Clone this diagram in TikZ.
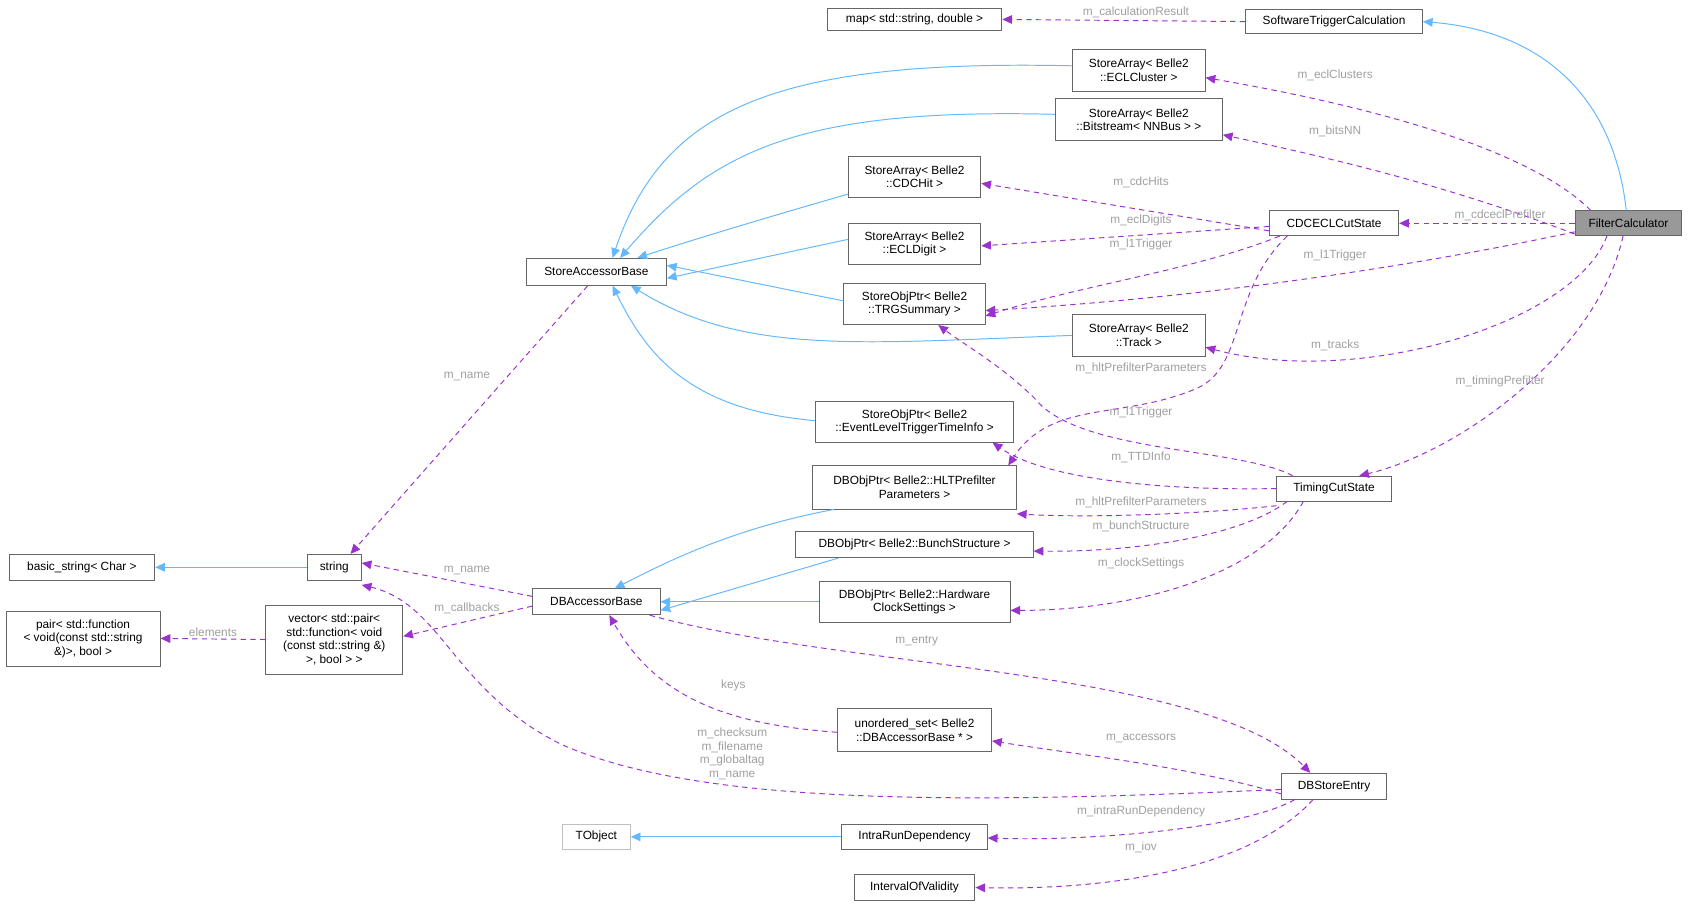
\documentclass[tikz,border=0pt]{standalone}
\usepackage{fontspec}
\setmainfont{Liberation Sans}
\usetikzlibrary{arrows.meta}
\definecolor{inh}{RGB}{99,184,255}
\definecolor{use}{RGB}{154,50,205}
\definecolor{lbl}{RGB}{160,160,160}
\definecolor{bd}{RGB}{102,102,102}
\begin{document}
\begin{tikzpicture}[x=1pt,y=-1pt,
  box/.style={draw=bd,line width=0.8pt,rectangle,inner sep=1pt,align=center,font=\fontsize{11}{12.5}\selectfont},
  inh/.style={draw=inh,line width=0.9pt,-{Triangle[length=9pt,width=8pt]}},
  use/.style={draw=use,line width=0.9pt,dash pattern=on 5pt off 4pt,-{Triangle[length=9pt,width=8pt,fill=use]}},
  lb/.style={text=lbl,font=\fontsize{11}{12.5}\selectfont,align=center,inner sep=0pt}]
\useasboundingbox (0,0) rectangle (1568,839);
\fill[white] (0,0) rectangle (1568,839);
% nodes
\node[box,minimum width=162,minimum height=21] (map) at (848,18) {map< std::string, double >};
\node[box,minimum width=164,minimum height=22] (swtc) at (1237,20) {SoftwareTriggerCalculation};
\node[box,minimum width=123,minimum height=39] (eclc) at (1056,65) {StoreArray< Belle2\\::ECLCluster >};
\node[box,minimum width=155,minimum height=39] (bits) at (1056,111) {StoreArray< Belle2\\::Bitstream< NNBus > >};
\node[box,minimum width=123,minimum height=38] (cdch) at (848,164) {StoreArray< Belle2\\::CDCHit >};
\node[box,minimum width=123,minimum height=38] (ecld) at (848,226) {StoreArray< Belle2\\::ECLDigit >};
\node[box,minimum width=131,minimum height=38] (trg) at (848,282) {StoreObjPtr< Belle2\\::TRGSummary >};
\node[box,minimum width=123,minimum height=39] (trk) at (1056,311) {StoreArray< Belle2\\::Track >};
\node[box,minimum width=184,minimum height=38] (eltti) at (848,391) {StoreObjPtr< Belle2\\::EventLevelTriggerTimeInfo >};
\node[box,minimum width=120,minimum height=23] (cdcecl) at (1237,207) {CDCECLCutState};
\node[box,fill=black!40,minimum width=99,minimum height=23] (fc) at (1510,207) {FilterCalculator};
\node[box,minimum width=130,minimum height=25] (sab) at (553,252) {StoreAccessorBase};
\node[box,minimum width=189,minimum height=40] (hlt) at (848,452) {DBObjPtr< Belle2::HLTPrefilter\\Parameters >};
\node[box,minimum width=106,minimum height=23] (tcs) at (1237,453) {TimingCutState};
\node[box,minimum width=220,minimum height=24] (bunch) at (848,505) {DBObjPtr< Belle2::BunchStructure >};
\node[box,minimum width=177,minimum height=38] (clock) at (848,558) {DBObjPtr< Belle2::Hardware\\ClockSettings >};
\node[box,minimum width=135,minimum height=24] (bstr) at (76,526) {basic\_string< Char >};
\node[box,minimum width=50,minimum height=24] (str) at (310,526) {string};
\node[box,minimum width=118,minimum height=24] (dbab) at (553,558) {DBAccessorBase};
\node[box,minimum width=143,minimum height=51] (pair) at (77,592) {pair< std::function\\< void(const std::string\\\&)>, bool >};
\node[box,minimum width=127,minimum height=64] (vec) at (310,593) {vector< std::pair<\\std::function< void\\(const std::string \&)\\>, bool > >};
\node[box,minimum width=143,minimum height=40] (uset) at (848,677) {unordered\_set< Belle2\\::DBAccessorBase * >};
\node[box,minimum width=98,minimum height=24] (dbse) at (1237,729) {DBStoreEntry};
\node[box,draw=black!25,minimum width=63,minimum height=24] (tobj) at (553,776) {TObject};
\node[box,minimum width=135,minimum height=24] (intra) at (848,776) {IntraRunDependency};
\node[box,minimum width=112,minimum height=24] (iov) at (848,823) {IntervalOfValidity};
% inheritance
\draw[inh] (fc.north) ++(-2,0) .. controls (1495,80) and (1420,28) .. (swtc.east);
\draw[inh] (eclc.west) ++(0,-4) .. controls (720,55) and (615,100) .. ([xshift=15]sab.north);
\draw[inh] (bits.west) ++(0,-5) .. controls (740,100) and (660,140) .. ([xshift=22]sab.north);
\draw[inh] (cdch.west) ++(0,16) .. controls (700,205) and (650,220) .. ([xshift=38]sab.north);
\draw[inh] (ecld.west) ++(0,-4) -- ([yshift=-6]sab.east);
\draw[inh] (trg.west) ++(0,-3) -- ([yshift=6]sab.east);
\draw[inh] (trk.west) .. controls (800,318) and (690,330) .. ([xshift=32]sab.south);
\draw[inh] (eltti.west) ++(0,-1) .. controls (640,380) and (600,330) .. ([xshift=15]sab.south);
\draw[inh] ([xshift=20]hlt.south west) .. controls (680,490) and (620,520) .. ([xshift=17]dbab.north);
\draw[inh] ([xshift=40]bunch.south west) -- ([yshift=-8]dbab.east);
\draw[inh] (clock.west) -- (dbab.east);
\draw[inh] (str.west) -- (bstr.east);
\draw[inh] (intra.west) -- (tobj.east);
% usage
\draw[use] (swtc.west) -- node[lb,above=2pt,pos=0.45]{m\_calculationResult} (map.east);
\draw[use] ([xshift=-35]fc.north) .. controls (1420,140) and (1280,100) .. ([yshift=-7]eclc.east);
\node[lb] at (1238,70) {m\_eclClusters};
\draw[use] ([yshift=-10]fc.west) .. controls (1350,175) and (1250,150) .. ([yshift=-14]bits.east);
\node[lb] at (1238,122) {m\_bitsNN};
\draw[use] (fc.west) -- (cdcecl.east);
\node[lb] at (1391,200) {m\_cdceclPrefilter};
\draw[use] ([yshift=-8]fc.west) .. controls (1250,260) and (1050,280) .. ([yshift=-6]trg.east);
\node[lb] at (1238,237) {m\_l1Trigger};
\draw[use] ([xshift=-20]fc.south) .. controls (1460,300) and (1260,360) .. ([yshift=-11]trk.east);
\node[lb] at (1238,320) {m\_tracks};
\draw[use] (fc.south) ++(-5,0) .. controls (1480,330) and (1350,420) .. ([xshift=-30]tcs.north east);
\node[lb] at (1391,354) {m\_timingPrefilter};
\draw[use] ([yshift=-7]cdcecl.west) -- ([yshift=-6]cdch.east);
\node[lb] at (1058,169) {m\_cdcHits};
\draw[use] ([yshift=-3]cdcecl.west) -- ([yshift=-2]ecld.east);
\node[lb] at (1058,204) {m\_eclDigits};
\draw[use] ([xshift=10]cdcecl.south west) .. controls (1110,250) and (1000,265) .. ([yshift=-11]trg.east);
\node[lb] at (1058,227) {m\_l1Trigger};
\draw[use] ([xshift=17]cdcecl.south west) .. controls (1140,270) and (1155,340) .. (1110,360) .. controls (1040,390) and (975,370) .. ([xshift=-8]hlt.north east);
\node[lb] at (1058,342) {m\_hltPrefilterParameters};
\draw[use] ([xshift=15]tcs.north west) .. controls (1150,415) and (1000,420) .. (960,370) .. controls (930,340) and (895,320) .. ([xshift=22]trg.south);
\node[lb] at (1058,382) {m\_l1Trigger};
\draw[use] (tcs.west) .. controls (1080,455) and (970,445) .. ([xshift=-20]eltti.south east);
\node[lb] at (1058,424) {m\_TTDInfo};
\draw[use] ([yshift=-4]tcs.south west) .. controls (1100,478) and (1000,480) .. ([yshift=-4]hlt.south east);
\node[lb] at (1058,466) {m\_hltPrefilterParameters};
\draw[use] ([xshift=10]tcs.south west) .. controls (1150,498) and (1050,512) .. ([yshift=-6]bunch.east);
\node[lb] at (1058,488) {m\_bunchStructure};
\draw[use] ([xshift=25]tcs.south west) .. controls (1170,535) and (1050,566) .. ([yshift=-8]clock.east);
\node[lb] at (1058,522) {m\_clockSettings};
\draw[use] ([xshift=-8]sab.south) -- ([xshift=15]str.north);
\node[lb] at (433,349) {m\_name};
\draw[use] ([yshift=5]dbab.west) -- ([yshift=4]str.east);
\node[lb] at (433,529) {m\_name};
\draw[use] ([yshift=-4]dbab.west) -- ([yshift=3]vec.east);
\node[lb] at (433,564) {m\_callbacks};
\draw[use] (vec.west) -- node[lb,above=2pt]{elements} (pair.east);
\draw[use] ([xshift=-10]dbab.south east) .. controls (780,620) and (1120,620) .. ([xshift=-22]dbse.north);
\node[lb] at (850,594) {m\_entry};
\draw[use] ([yshift=-2]uset.west) .. controls (680,672) and (610,650) .. ([xshift=12]dbab.south);
\node[lb] at (680,636) {keys};
\draw[use] ([yshift=-7]dbse.west) .. controls (1100,710) and (1000,700) .. ([yshift=-10]uset.east);
\node[lb] at (1058,685) {m\_accessors};
\draw[use] ([yshift=-3]dbse.west) .. controls (900,745) and (650,748) .. (520,690) .. controls (420,640) and (410,560) .. ([yshift=-4]str.south east);
\node[lb] at (679,699) {m\_checksum\\m\_filename\\m\_globaltag\\m\_name};
\draw[use] ([xshift=13]dbse.south west) .. controls (1150,770) and (1000,780) .. ([yshift=-1]intra.east);
\node[lb] at (1058,752) {m\_intraRunDependency};
\draw[use] ([xshift=30]dbse.south west) .. controls (1150,815) and (1000,825) .. (iov.east);
\node[lb] at (1058,786) {m\_iov};
\end{tikzpicture}
\end{document}
